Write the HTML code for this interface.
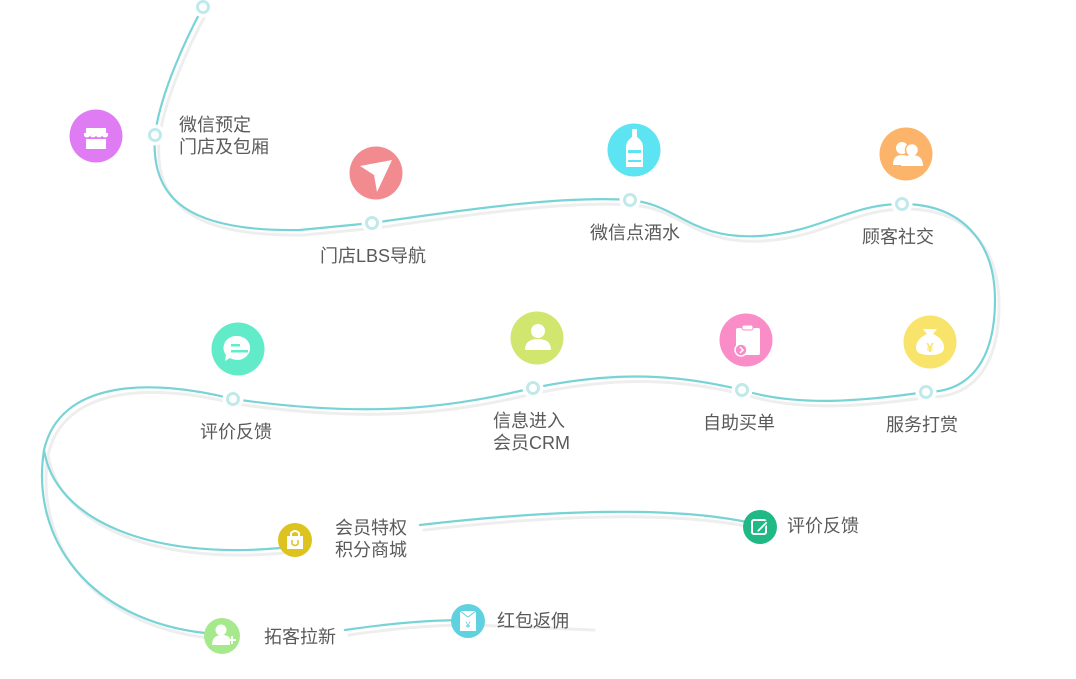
<!DOCTYPE html>
<html><head><meta charset="utf-8"><style>
html,body{margin:0;padding:0;background:#fff;}
body{width:1076px;height:679px;position:relative;overflow:hidden;font-family:"Liberation Sans","Noto Sans CJK SC",sans-serif;}
.t{position:absolute;font-size:18px;color:#5a5a5a;line-height:22px;white-space:nowrap;}
svg{position:absolute;left:0;top:0;}
</style></head><body>
<svg width="1076" height="679" viewBox="0 0 1076 679">
<g fill="none" stroke-linecap="round">
<g stroke="#eeeeee" stroke-width="3" transform="translate(4,5)">
<path d="M203,7 C185,40 160,95 155,135 C150,200 190,232 300,230 L372,223 C450,212 560,195 630,200 C680,205 690,240 760,236 C820,232 850,204 902,204 C960,204 995,240 995,300 C995,360 970,392 926,392 C870,400 800,408 742,390 C680,375 620,370 533,388 C460,405 380,420 233,399 C150,378 60,380 44,450"/>
<path d="M44,450 C55,520 150,560 280,548 M420,525 C550,510 680,505 760,525"/>
<path d="M44,450 C30,540 90,620 205,633 M345,630 C380,625 420,620 468,620 L590,625"/>
</g>
<g stroke="#78d3d7" stroke-width="2.2">
<path d="M203,7 C185,40 160,95 155,135 C150,200 190,232 300,230 L372,223 C450,212 560,195 630,200 C680,205 690,240 760,236 C820,232 850,204 902,204 C960,204 995,240 995,300 C995,360 970,392 926,392 C870,400 800,408 742,390 C680,375 620,370 533,388 C460,405 380,420 233,399 C150,378 60,380 44,450"/>
<path d="M44,450 C55,520 150,560 280,548 M420,525 C550,510 680,505 760,525"/>
<path d="M44,450 C30,540 90,620 205,633 M345,630 C380,625 420,620 468,620"/>
</g>
<g fill="#fff" stroke="#fff" stroke-width="9">
<circle cx="203" cy="7" r="6"/><circle cx="155" cy="135" r="6"/><circle cx="372" cy="223" r="6"/><circle cx="630" cy="200" r="6"/><circle cx="902" cy="204" r="6"/><circle cx="926" cy="392" r="6"/><circle cx="742" cy="390" r="6"/><circle cx="533" cy="388" r="6"/><circle cx="233" cy="399" r="6"/>
</g>
<g fill="#fff" stroke="#c0e9eb" stroke-width="3">
<circle cx="203" cy="7" r="5.5"/><circle cx="155" cy="135" r="5.5"/><circle cx="372" cy="223" r="5.5"/><circle cx="630" cy="200" r="5.5"/><circle cx="902" cy="204" r="5.5"/><circle cx="926" cy="392" r="5.5"/><circle cx="742" cy="390" r="5.5"/><circle cx="533" cy="388" r="5.5"/><circle cx="233" cy="399" r="5.5"/>
</g>
</g>
<circle cx="96" cy="136" r="26.5" fill="#e07cf3"/>
<rect x="86" y="128" width="20" height="5" fill="#fff"/><path d="M84,133 h24 v3 q-3,3 -6,0 q-3,3 -6,0 q-3,3 -6,0 q-3,3 -6,0z" fill="#fff"/><rect x="86" y="139" width="20" height="10" fill="#fff"/>
<circle cx="376" cy="173" r="26.5" fill="#f28b8f"/>
<path d="M360,166 L392,160 L377,192 L374,175z" fill="#fff"/>
<circle cx="634" cy="150" r="26.5" fill="#5de4f2"/>
<path d="M632,129 h5 v8 q6,4 6,10 v20 h-17 v-20 q0,-6 6,-10z" fill="#fff"/><rect x="628" y="150" width="13" height="3" fill="#5de4f2"/><rect x="628" y="160" width="13" height="2" fill="#5de4f2"/>
<circle cx="906" cy="154" r="26.5" fill="#fcb46a"/>
<circle cx="902" cy="148" r="6" fill="#fff"/><path d="M893,165 q0,-10 9,-10 q9,0 9,10z" fill="#fff"/><circle cx="912" cy="150" r="6.5" fill="#fff" stroke="#fcb46a" stroke-width="1.5"/><path d="M901,166 q0,-11 11,-11 q11,0 11,11z" fill="#fff"/>
<circle cx="238" cy="349" r="26.5" fill="#62ebc9"/>
<path d="M238,336 a13,12 0 1,1 -8,22 l-5,3 l1,-6 a13,12 0 0,1 12,-19z" fill="#fff"/><rect x="231" y="344" width="9" height="2.5" fill="#62ebc9"/><rect x="231" y="350" width="17" height="2.5" fill="#62ebc9"/>
<circle cx="537" cy="338" r="26.5" fill="#d0e66f"/>
<circle cx="538" cy="331" r="7" fill="#fff"/><path d="M525,350 q0,-11 13,-11 q13,0 13,11z" fill="#fff"/>
<circle cx="746" cy="340" r="26.5" fill="#fa8cc8"/>
<rect x="736" y="328" width="24" height="27" rx="2" fill="#fff"/><rect x="742" y="325" width="11" height="5" rx="2" fill="#fff" stroke="#fa8cc8" stroke-width="1"/><circle cx="741" cy="350" r="6" fill="#fa8cc8" stroke="#fff" stroke-width="1.5"/><path d="M740,347 l3,3 l-3,3" stroke="#fff" stroke-width="1.5" fill="none"/>
<circle cx="930" cy="342" r="26.5" fill="#f8e46a"/>
<path d="M923,329 h14 l-4,5 q11,5 11,14 q0,7 -14,7 q-14,0 -14,-7 q0,-9 11,-14z" fill="#fff"/><text x="930" y="352" text-anchor="middle" font-size="13" font-weight="bold" fill="#f8e46a" font-family="Liberation Sans,sans-serif">¥</text>
<circle cx="295" cy="540" r="17" fill="#dcc31e"/>
<rect x="287" y="536" width="16" height="13" fill="#fff"/><path d="M291,536 v-3 q4,-4 8,0 v3" stroke="#fff" stroke-width="2" fill="none"/><path d="M292,540 v4 q3,3 6,0 v-4" stroke="#dcc31e" stroke-width="1.5" fill="none"/>
<circle cx="760" cy="527" r="17" fill="#20b985"/>
<rect x="752" y="520" width="14" height="14" rx="2" fill="none" stroke="#fff" stroke-width="2"/><path d="M757,530 l9,-9 l2,2 l-9,9 h-2z" fill="#fff" stroke="#20b985" stroke-width="1"/>
<circle cx="222" cy="636" r="18" fill="#a5e98c"/>
<circle cx="221" cy="630" r="5.5" fill="#fff"/><path d="M212,645 q0,-10 10,-10 q6,0 8,3 v7z" fill="#fff"/><path d="M228,640 h8 M232,636 v8" stroke="#fff" stroke-width="2"/>
<circle cx="468" cy="621" r="17" fill="#60d1df"/>
<rect x="460" y="611" width="16" height="20" fill="#fff"/><path d="M460,611 l8,6 l8,-6" stroke="#60d1df" stroke-width="1" fill="none"/><text x="468" y="628" text-anchor="middle" font-size="9" fill="#60d1df" font-family="Liberation Sans,sans-serif">¥</text>
</svg>
<div class="t" style="left:179px;top:114px;">微信预定<br>门店及包厢</div>
<div class="t" style="left:320px;top:245px;">门店LBS导航</div>
<div class="t" style="left:590px;top:222px;">微信点酒水</div>
<div class="t" style="left:862px;top:226px;">顾客社交</div>
<div class="t" style="left:200px;top:421px;">评价反馈</div>
<div class="t" style="left:493px;top:410px;">信息进入<br>会员CRM</div>
<div class="t" style="left:703px;top:412px;">自助买单</div>
<div class="t" style="left:886px;top:414px;">服务打赏</div>
<div class="t" style="left:335px;top:517px;">会员特权<br>积分商城</div>
<div class="t" style="left:787px;top:515px;">评价反馈</div>
<div class="t" style="left:264px;top:626px;">拓客拉新</div>
<div class="t" style="left:497px;top:610px;">红包返佣</div>
</body></html>
